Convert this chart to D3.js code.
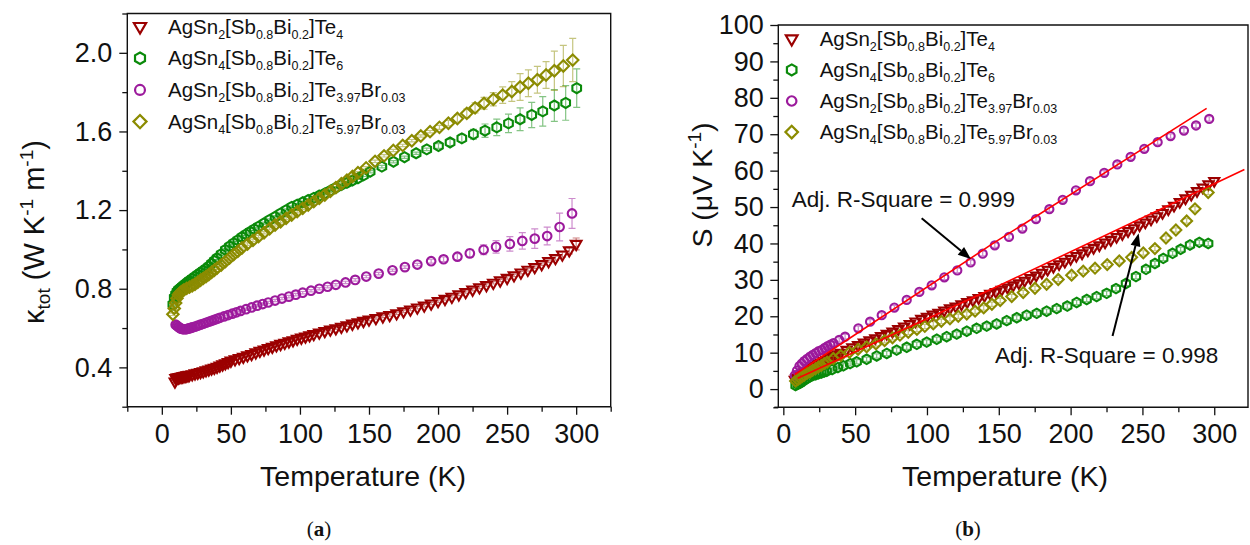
<!DOCTYPE html>
<html>
<head>
<meta charset="utf-8">
<script src="https://cdn.jsdelivr.net/npm/d3@7"></script>
<style>
  html, body { margin: 0; padding: 0; background: #fff; }
  svg { display: block; }
</style>
</head>
<body>
<svg id="chart" width="1250" height="545"></svg>
<script>
const FONT = '"Liberation Sans", Arial, Helvetica, sans-serif';
const SERIF = '"Liberation Serif", "Times New Roman", serif';

// ---------- legend labels (normal / subscript pieces alternate) ----------
const seriesLabels = [
  ["AgSn", "2", "[Sb", "0.8", "Bi", "0.2", "]Te", "4"],
  ["AgSn", "4", "[Sb", "0.8", "Bi", "0.2", "]Te", "6"],
  ["AgSn", "2", "[Sb", "0.8", "Bi", "0.2", "]Te", "3.97", "Br", "0.03"],
  ["AgSn", "4", "[Sb", "0.8", "Bi", "0.2", "]Te", "5.97", "Br", "0.03"]
];
const seriesColors = ["#9b0000", "#0a8a0a", "#9c1a9c", "#8b8b00"];
const seriesMarkers = ["tri", "hex", "circ", "dia"];

// ---------- panel (a): total thermal conductivity ----------
const kTicksX = [0, 50, 100, 150, 200, 250, 300];
const kMinorX = [-25, 25, 75, 125, 175, 225, 275, 325];
const kTicksY = [0.4, 0.8, 1.2, 1.6, 2.0];
const kMinorY = [0.2, 0.6, 1.0, 1.4, 1.8, 2.2];

const kRedT = [9.5,10,11,12,13,14,15,16,17,18,19,20,22,24,26,28,30,32,34,36,38,40,42,44,46,48,50,53,56,59,62,65,68,71,74,77,80,83,86,89,92,95,98,101,104,107,110,114,118,122,126,130,134,138,142,146,150,155,160,165,170,175,180,185,190,195,200,205,210,215,220,225,230,235,240,245,250,255,260,265,270,275,280,285,290,295,300];
const kRedV = [0.328,0.345,0.348,0.349,0.351,0.352,0.354,0.355,0.357,0.359,0.360,0.362,0.365,0.369,0.372,0.376,0.380,0.385,0.389,0.394,0.398,0.403,0.409,0.415,0.421,0.427,0.434,0.441,0.447,0.454,0.461,0.468,0.476,0.484,0.491,0.498,0.505,0.512,0.519,0.525,0.532,0.538,0.545,0.551,0.557,0.563,0.569,0.577,0.585,0.592,0.599,0.606,0.614,0.622,0.629,0.636,0.643,0.651,0.659,0.666,0.675,0.685,0.694,0.704,0.714,0.725,0.737,0.748,0.759,0.771,0.783,0.795,0.807,0.818,0.830,0.842,0.855,0.868,0.882,0.896,0.910,0.925,0.940,0.956,0.974,0.995,1.028];
const kRedErrTail = [0.010, 0.013, 0.018, 0.030];

const kGreenT = [8,9,10,11,12,13,14,15,16,17,18,19,20,22,24,26,28,30,32,34,36,38,40,43,46,49,52,55,58,61,64,67,70,74,78,82,86,90,94,98,102,106,110,114,118,122,126,130,134,138,142,146,150.8,159.3,167.7,175.7,184.1,191.8,200.3,208.7,217.2,225.6,234,242.5,251,259.4,267.8,275.8,284.2,292.4,300.4];
const kGreenV = [0.720,0.755,0.772,0.785,0.794,0.800,0.806,0.812,0.818,0.824,0.829,0.835,0.841,0.851,0.862,0.872,0.882,0.892,0.902,0.914,0.928,0.942,0.956,0.976,0.998,1.016,1.032,1.047,1.063,1.077,1.090,1.103,1.116,1.133,1.150,1.166,1.183,1.200,1.216,1.228,1.240,1.251,1.262,1.274,1.285,1.299,1.314,1.328,1.339,1.351,1.362,1.377,1.395,1.421,1.446,1.469,1.489,1.509,1.526,1.544,1.565,1.586,1.604,1.621,1.641,1.662,1.684,1.702,1.732,1.745,1.820];
const kGreenErrTail = [0.012,0.016,0.020,0.025,0.034,0.042,0.047,0.058,0.064,0.075,0.081,0.088,0.098];

const kMagT = [10,11,12,13,14,15,16,17,18,19,20,21,22,24,26,28,30,32,34,36,38,40,42,45,48,51,54,57,61,65,69,73,77,82,87,92,97,102,108,114,120,126,133,140,148,157,167,176,185,195,204,214,223,233,242,252,261,270,279,288,297];
const kMagV = [0.617,0.612,0.606,0.600,0.597,0.595,0.594,0.594,0.595,0.597,0.599,0.601,0.603,0.607,0.612,0.617,0.622,0.627,0.632,0.637,0.642,0.647,0.652,0.659,0.666,0.673,0.680,0.687,0.696,0.705,0.714,0.722,0.730,0.740,0.750,0.760,0.770,0.780,0.790,0.800,0.810,0.820,0.832,0.845,0.862,0.877,0.894,0.910,0.923,0.940,0.950,0.963,0.980,0.998,1.013,1.028,1.043,1.055,1.068,1.114,1.183];
const kMagErrTail = [0.010,0.012,0.015,0.020,0.025,0.032,0.037,0.042,0.050,0.045,0.071,0.076];

const kOliveT = [8,9,10,11,12,13,14,15,16,18,20,22,24,26,28,30,32,34,36,38,40,43,46,49,52,55,58,62,66,70,74,78,82,86,90,94,98,102,106,110,114,118,122,126,130,134,138,142,147.9,154.4,160.9,167.6,174.4,181,187.5,194.2,201,207.5,214,220.8,226.8,233.3,240,246.8,253.4,259.4,265.4,271.9,278.2,284.2,290.7,297.5];
const kOliveV = [0.670,0.700,0.728,0.752,0.770,0.778,0.784,0.789,0.794,0.802,0.808,0.815,0.823,0.833,0.843,0.853,0.862,0.872,0.883,0.894,0.905,0.921,0.938,0.956,0.974,0.990,1.007,1.027,1.046,1.065,1.085,1.105,1.124,1.141,1.158,1.175,1.192,1.209,1.226,1.243,1.260,1.277,1.295,1.314,1.334,1.352,1.371,1.390,1.415,1.448,1.476,1.503,1.529,1.553,1.577,1.599,1.621,1.642,1.666,1.692,1.720,1.743,1.764,1.785,1.803,1.826,1.845,1.863,1.887,1.909,1.933,1.963];
const kOliveErrTail = [0.010,0.014,0.018,0.022,0.026,0.030,0.034,0.042,0.050,0.068,0.068,0.068,0.068,0.100,0.105,0.110];

// error half-width for points whose bar stays inside the symbol
const kErrFloor = 0.006;

// ---------- panel (b): Seebeck coefficient ----------
const sTicksX = [0, 50, 100, 150, 200, 250, 300];
const sMinorX = [25, 75, 125, 175, 225, 275];
const sTicksY = [0, 10, 20, 30, 40, 50, 60, 70, 80, 90, 100];
const sMinorY = [-5, 5, 15, 25, 35, 45, 55, 65, 75, 85, 95];

const sRedT = [8,9,10,11,12,13,14,15,16,18,20,22,24,26,28,30,32,34,36,38,40,44,48,52,56,60,64,68,72,76,80,84,88,92,96,100,104,108,112,116,120,124,128,132,136,140,144,148,152,156,160,164,168,172,176,180,184,188,192,196,200,204,208,212,216,220,224,228,232,236,240,244,248,252,256,260,264,268,272,276,280,284,288,292,296,300];
const sRedV = [2.6,2.9,3.2,3.5,3.8,4.1,4.4,4.7,5.0,5.5,6.0,6.5,6.9,7.3,7.7,8.1,8.5,8.9,9.3,9.6,10.0,10.8,11.5,12.1,12.8,13.4,14.0,14.6,15.2,15.8,16.5,17.2,17.9,18.6,19.3,19.9,20.5,21.0,21.6,22.2,22.7,23.3,23.9,24.4,25.0,25.6,26.2,26.7,27.3,27.9,28.5,29.1,29.8,30.5,31.2,32.0,32.8,33.6,34.3,35.0,35.8,36.6,37.3,38.1,38.8,39.5,40.3,41.0,41.8,42.6,43.4,44.2,45.0,45.8,46.6,47.5,48.4,49.4,50.4,51.4,52.4,53.4,54.4,55.4,56.3,57.2];

const sGreenT = [8.5,10,11.6,13,14.5,16.5,18.6,20.5,22.5,24.5,26.5,28.4,30.2,34,38,41.8,46.5,51.1,58,65,72,78.9,85.9,92.9,99.8,106.8,113.7,120.7,127.7,134.6,141.6,148.5,155.5,162.5,169.4,176.4,183.3,190.3,197.7,204.2,211.2,218.1,225.1,231.6,238.5,245.5,252.5,258.7,264.5,271,276.6,283.1,289.6,295.8];
const sGreenV = [1.0,1.3,1.6,2.0,2.4,2.9,3.4,3.7,3.9,4.2,4.4,4.7,4.9,5.4,5.9,6.4,7.0,7.5,8.2,9.1,9.8,10.7,11.5,12.3,12.9,13.7,14.4,15.1,15.9,16.7,17.3,17.9,18.8,19.6,20.3,20.8,21.4,22.1,22.8,23.8,24.6,25.4,26.3,27.6,29.0,30.9,32.9,34.5,35.9,37.3,38.4,39.6,40.3,40.0];

const sMagT = [8,9.5,11.2,12.8,14.5,16.5,18.6,20.5,22.5,24.6,26.8,28.8,30.8,32.8,34.9,38.9,43,52.2,60.4,68.5,77.3,85.9,94.7,103.3,112.1,121.1,130.4,138.8,147.2,157.1,166.4,175.9,185.2,194.5,203.7,213.5,223.4,232.5,241.8,251.3,260.6,269.6,278.9,287.3,296.5];
const sMagV = [3.8,5.1,6.3,7.0,7.7,8.3,8.9,9.4,9.9,10.4,10.8,11.3,11.8,12.2,12.6,13.5,14.4,16.7,18.5,20.3,22.4,24.5,26.7,28.5,30.7,32.6,34.8,37.2,39.5,41.8,44.1,46.7,49.4,52.0,54.6,57.1,59.4,61.7,63.8,66.0,67.8,69.5,71.0,72.4,74.2];

const sOliveT = [8.5,10,11.6,13,14.5,16.5,18.6,20.5,22.5,24.5,26.5,28.5,30.5,34.8,40,46,52,58,64.5,70.5,76,81.2,87,93,98.5,104.4,110,116,121.8,127.7,133.5,139.5,145.2,151,159,167,175.2,183.3,191.4,200.7,208.8,217,225.5,233.9,242.5,250.6,258.7,266.4,273.3,280.8,286.6,295.8];
const sOliveV = [2.2,2.6,3.0,3.4,3.8,4.3,4.7,5.2,5.6,6.1,6.5,7.0,7.4,8.4,9.2,10.1,10.9,11.6,12.4,13.3,14.1,14.8,15.6,16.4,17.2,17.9,18.6,19.3,20.0,20.6,21.4,22.3,23.3,24.3,25.4,26.5,27.7,28.8,30.1,31.3,32.4,33.2,34.2,35.2,36.2,37.4,38.6,41.5,43.7,46.2,49.5,54.0];

// measurement uncertainty of S for each sample (µV/K)
const sErr = [0.6, 0.6, 0.6, 0.6];

// fitted curves through the two Te4-type samples
const fitMagT = [8, 146, 294.7];
const fitMagV = [4.0, 40.0, 77.1];
const fitRedT = [10, 148.5, 321];
const fitRedV = [3.0, 28.1, 60.3];

// annotations: [text, T, S] and arrows [T0, S0, T1, S1]
const noteTexts = [["Adj. R-Square = 0.999", 5.8, 50.1], ["Adj. R-Square = 0.998", 147.4, 7.2]];
const noteArrows = [[96.3, 46.9, 130.6, 35.7], [229.2, 14.6, 247.4, 42.8]];

// ---------- drawing helpers ----------
const svg = d3.select("#chart");

function markerPath(kind, k) {
  const p = d3.path();
  if (kind === "tri") {
    const s = 10.6 * k, h = s * Math.sqrt(3) / 2;
    p.moveTo(0, 2 * h / 3); p.lineTo(-s / 2, -h / 3); p.lineTo(s / 2, -h / 3); p.closePath();
  } else if (kind === "hex") {
    const r = 5.0 * k;
    for (let i = 0; i < 6; i++) {
      const a = -Math.PI / 2 + i * Math.PI / 3;
      if (i === 0) p.moveTo(r * Math.cos(a), r * Math.sin(a)); else p.lineTo(r * Math.cos(a), r * Math.sin(a));
    }
    p.closePath();
  } else if (kind === "circ") {
    const r = 4.3 * k;
    p.moveTo(r, 0); p.arc(0, 0, r, 0, 2 * Math.PI); p.closePath();
  } else {
    const r = 5.7 * k;
    p.moveTo(0, -r); p.lineTo(r, 0); p.lineTo(0, r); p.lineTo(-r, 0); p.closePath();
  }
  return p.toString();
}

function drawAxes(g, x, y, majX, minX, majY, minY, fmtY, padX, padY) {
  const y0 = y.range()[0];
  const x0 = x.range()[0];
  const style = sel => {
    sel.select(".domain").remove();
    sel.attr("font-family", FONT).attr("font-size", 27);
    sel.selectAll("line").attr("stroke", "#111").attr("stroke-width", 1.3);
    sel.selectAll("text").attr("fill", "#111");
  };
  g.append("g").attr("transform", `translate(0,${y0})`)
    .call(d3.axisBottom(x).tickValues(majX).tickSize(8).tickPadding(padX).tickFormat(d3.format("d")))
    .call(style);
  g.append("g").attr("transform", `translate(0,${y0})`)
    .call(d3.axisBottom(x).tickValues(minX).tickSize(5).tickFormat(""))
    .call(style);
  g.append("g").attr("transform", `translate(${x0},0)`)
    .call(d3.axisLeft(y).tickValues(majY).tickSize(8).tickPadding(padY).tickFormat(fmtY))
    .call(style);
  g.append("g").attr("transform", `translate(${x0},0)`)
    .call(d3.axisLeft(y).tickValues(minY).tickSize(5).tickFormat(""))
    .call(style);
}

function drawFrame(g, x, y, overhang) {
  const [xa, xb] = x.range(), [ya, yb] = y.range();
  g.append("path")
    .attr("d", `M${xa},${yb}H${xb}V${ya}H${xa}Z`)
    .attr("fill", "none").attr("stroke", "#111").attr("stroke-width", 1.4);
  if (overhang) {
    g.append("line").attr("x1", xa - overhang).attr("x2", xa).attr("y1", ya).attr("y2", ya)
      .attr("stroke", "#111").attr("stroke-width", 1.4);
  }
}

function drawSeries(g, x, y, s, k, capHalf) {
  const n = s.T.length;
  const pts = s.T.map((t, i) => {
    let e;
    if (Array.isArray(s.E)) {
      const j = i - (n - s.E.length);
      e = j >= 0 ? s.E[j] : s.floor;
    } else e = s.E;
    return { t, v: s.V[i], e };
  });
  const eb = g.append("g").attr("stroke", s.color).attr("stroke-opacity", 0.5)
    .attr("stroke-width", 1.2).attr("fill", "none");
  eb.selectAll("path").data(pts).join("path")
    .attr("d", d => {
      const cx = x(d.t), lo = y(d.v - d.e), hi = y(d.v + d.e);
      return `M${cx},${lo}V${hi}M${cx - capHalf},${lo}H${cx + capHalf}M${cx - capHalf},${hi}H${cx + capHalf}`;
    });
  g.append("g").selectAll("path").data(pts).join("path")
    .attr("d", markerPath(s.kind, k))
    .attr("transform", d => `translate(${x(d.t)},${y(d.v)})`)
    .attr("fill", "none").attr("stroke", s.color).attr("stroke-width", 2.1);
}

function drawLegend(g, x0, y0, dy, k) {
  seriesLabels.forEach((pieces, i) => {
    const yy = y0 + i * dy;
    g.append("path").attr("d", markerPath(seriesMarkers[i], k))
      .attr("transform", `translate(${x0},${yy})`)
      .attr("fill", "none").attr("stroke", seriesColors[i]).attr("stroke-width", 2.2);
    const t = g.append("text").attr("x", x0 + 28).attr("y", yy + 7)
      .attr("font-family", FONT).attr("font-size", 20.5).attr("fill", "#111");
    pieces.forEach((p, j) => {
      const sub = j % 2 === 1;
      t.append("tspan").text(p)
        .attr("font-size", sub ? 12.5 : 20.5)
        .attr("dy", j === 0 ? 0 : (sub ? 5 : -5));
    });
  });
}

function xTitle(g, cx) {
  g.append("text").attr("x", cx).attr("y", 486).attr("text-anchor", "middle")
    .attr("font-family", FONT).attr("font-size", 28.5).attr("fill", "#111")
    .text("Temperature (K)");
}

function arrow(g, x1, y1, x2, y2) {
  const ang = Math.atan2(y2 - y1, x2 - x1), L = 13, W = 5;
  const bx = x2 - L * Math.cos(ang), by = y2 - L * Math.sin(ang);
  g.append("line").attr("x1", x1).attr("y1", y1).attr("x2", bx).attr("y2", by)
    .attr("stroke", "#000").attr("stroke-width", 2);
  const px = -Math.sin(ang) * W, py = Math.cos(ang) * W;
  g.append("path").attr("d", `M${x2},${y2}L${bx + px},${by + py}L${bx - px},${by - py}Z`).attr("fill", "#000");
}

// ---------- panel (a) ----------
const gA = svg.append("g");
const xA = d3.scaleLinear().domain([-25, 325]).range([127.3, 610.7]);
const yA = d3.scaleLinear().domain([0.2, 2.2]).range([406.7, 13.5]);

const kSeries = [
  { T: kRedT, V: kRedV, E: kRedErrTail },
  { T: kGreenT, V: kGreenV, E: kGreenErrTail },
  { T: kMagT, V: kMagV, E: kMagErrTail },
  { T: kOliveT, V: kOliveV, E: kOliveErrTail }
].map((s, i) => ({ ...s, floor: kErrFloor, color: seriesColors[i], kind: seriesMarkers[i] }));

kSeries.forEach(s => drawSeries(gA, xA, yA, s, 1, 3.5));
drawFrame(gA, xA, yA, 0);
drawAxes(gA, xA, yA, kTicksX, kMinorX, kTicksY, kMinorY, d3.format(".1f"), 9, 7);
drawLegend(gA, 140, 26.5, 31.7, 1.15);
xTitle(gA, 363);

// y title: kappa_tot (W K^-1 m^-1)
{
  const t = gA.append("text").attr("transform", "translate(44,232) rotate(-90)")
    .attr("text-anchor", "middle").attr("font-family", FONT).attr("font-size", 29).attr("fill", "#111");
  t.append("tspan").text("κ");
  t.append("tspan").text("tot").attr("font-size", 19).attr("dy", 6);
  t.append("tspan").text(" (W K").attr("dy", -6);
  t.append("tspan").text("-1").attr("font-size", 19).attr("dy", -11);
  t.append("tspan").text(" m").attr("dy", 11);
  t.append("tspan").text("-1").attr("font-size", 19).attr("dy", -11);
  t.append("tspan").text(")").attr("dy", 11);
}

// ---------- panel (b) ----------
const gB = svg.append("g");
const xB = d3.scaleLinear().domain([-3.5, 323.5]).range([778.3, 1248]);
const yB = d3.scaleLinear().domain([-5, 100]).range([407.3, 25]);

const sSeries = [
  { T: sRedT, V: sRedV },
  { T: sGreenT, V: sGreenV },
  { T: sMagT, V: sMagV },
  { T: sOliveT, V: sOliveV }
].map((s, i) => ({ ...s, E: sErr[i], color: seriesColors[i], kind: seriesMarkers[i] }));

sSeries.forEach(s => drawSeries(gB, xB, yB, s, 0.95, 3));

const fitLine = d3.line().x(d => xB(d[0])).y(d => yB(d[1]));
[[fitMagT, fitMagV], [fitRedT, fitRedV]].forEach(([T, V]) => {
  gB.append("path").attr("d", fitLine(T.map((t, i) => [t, V[i]])))
    .attr("fill", "none").attr("stroke", "#ff0000").attr("stroke-width", 1.6);
});

drawFrame(gB, xB, yB, 4);
drawAxes(gB, xB, yB, sTicksX, sMinorX, sTicksY, sMinorY, d3.format("d"), 9, 6.5);
drawLegend(gB, 791.7, 38.8, 31.1, 1.1);
xTitle(gB, 1005);

{
  const t = gB.append("text").attr("transform", "translate(712,185) rotate(-90)")
    .attr("text-anchor", "middle").attr("font-family", FONT).attr("font-size", 28.5).attr("fill", "#111");
  t.append("tspan").text("S (μV K");
  t.append("tspan").text("-1").attr("font-size", 19).attr("dy", -11);
  t.append("tspan").text(")").attr("dy", 11);
}

noteTexts.forEach(([txt, T, S]) => {
  gB.append("text").attr("x", xB(T)).attr("y", yB(S))
    .attr("font-family", FONT).attr("font-size", 22.5).attr("fill", "#111").text(txt);
});
noteArrows.forEach(([t0, s0, t1, s1]) => arrow(gB, xB(t0), yB(s0), xB(t1), yB(s1)));

// ---------- sub-figure captions ----------
[["a", 319], ["b", 968]].forEach(([c, cx]) => {
  const t = svg.append("text").attr("x", cx).attr("y", 536).attr("text-anchor", "middle")
    .attr("font-family", SERIF).attr("font-size", 21).attr("fill", "#111");
  t.append("tspan").text("(");
  t.append("tspan").text(c).attr("font-weight", "bold");
  t.append("tspan").text(")");
});
</script>
</body>
</html>
